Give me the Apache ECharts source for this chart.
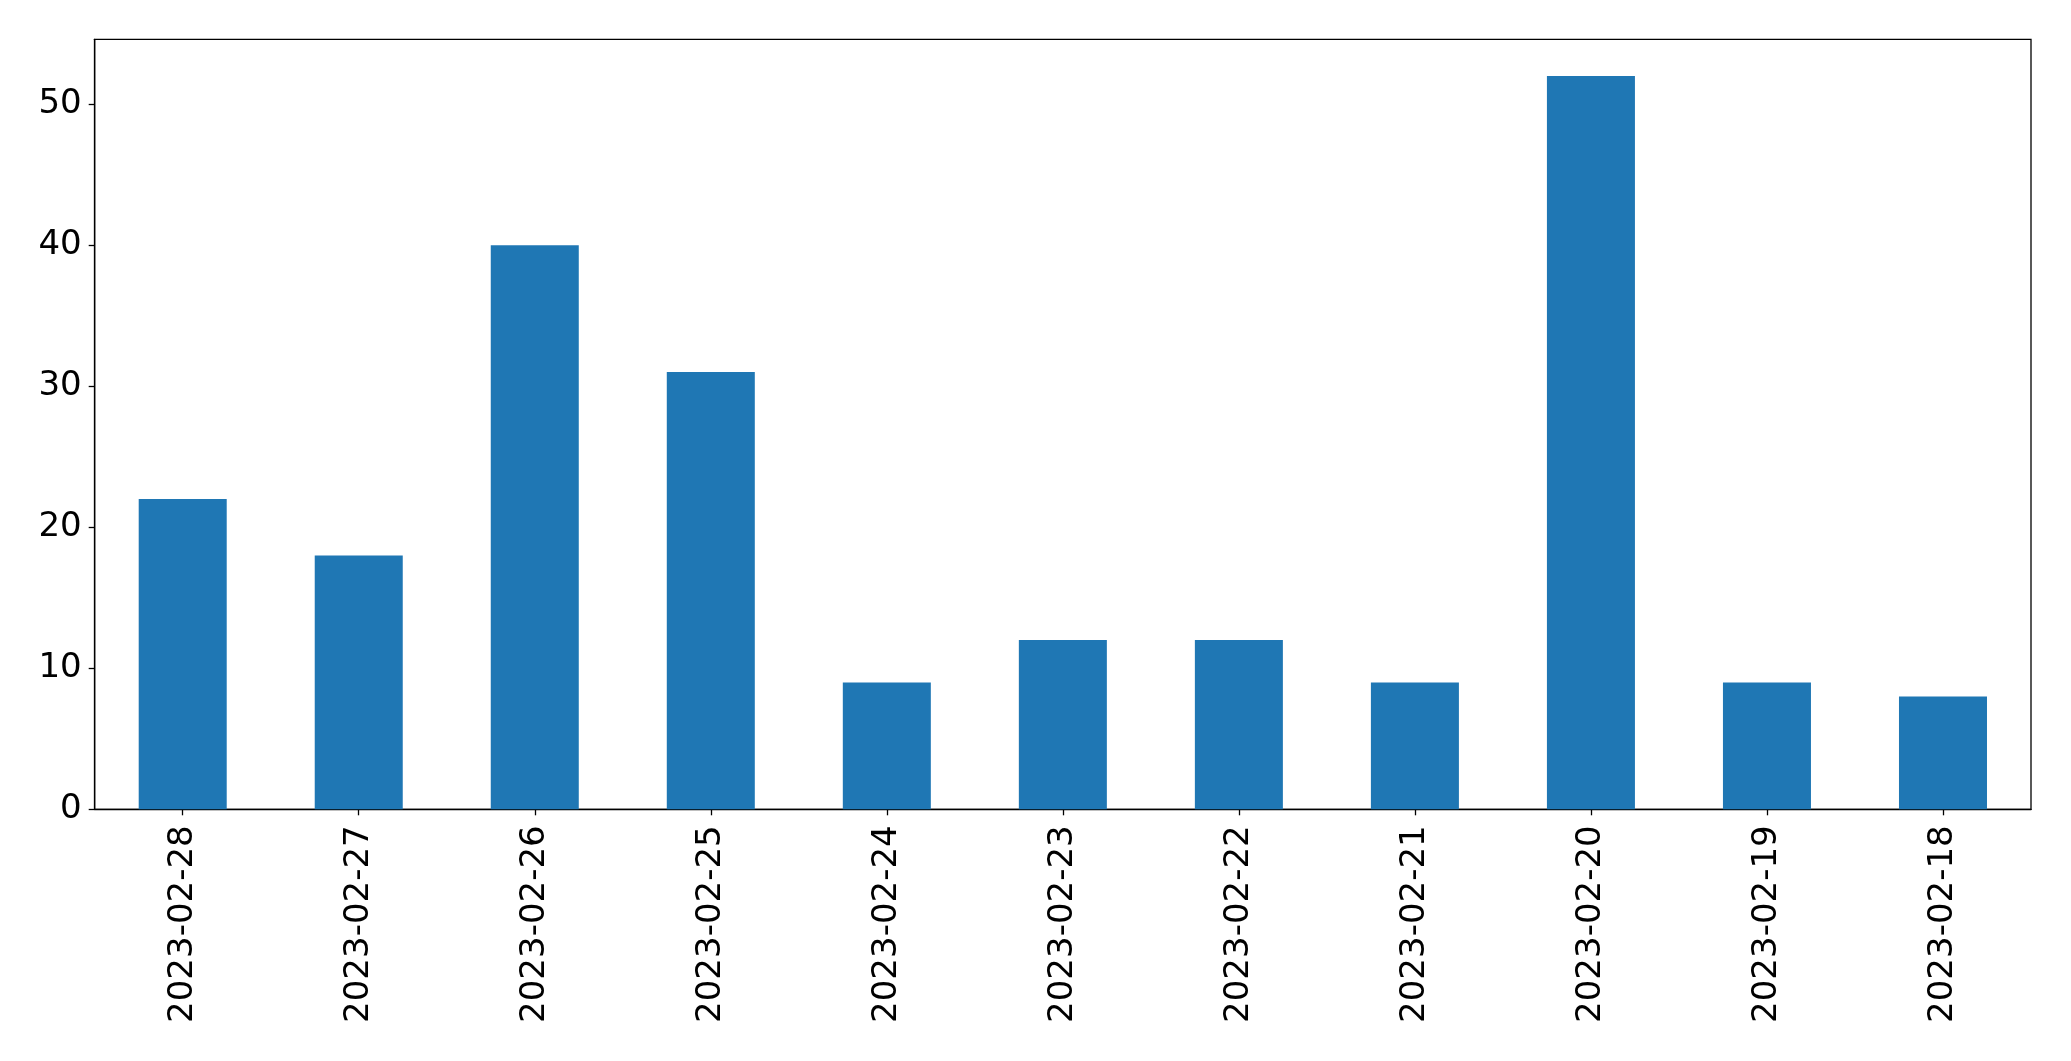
<!DOCTYPE html>
<html>
<head>
<meta charset="utf-8">
<script src="https://cdn.jsdelivr.net/npm/echarts@6/dist/echarts.min.js"></script>
<style>
html,body{margin:0;padding:0;background:#fff;}
#c{width:2071px;height:1061px;}
</style>
</head>
<body>
<div id="c"></div>
<script>
const categories = ["2023-02-28","2023-02-27","2023-02-26","2023-02-25","2023-02-24","2023-02-23","2023-02-22","2023-02-21","2023-02-20","2023-02-19","2023-02-18"];
const values = [22, 18, 40, 31, 9, 12, 12, 9, 52, 9, 8];
const yTicks = [0, 10, 20, 30, 40, 50];

const chart = echarts.init(document.getElementById('c'), null, {renderer: 'canvas'});
const font = 'DejaVu Sans';
chart.setOption({
  animation: false,
  backgroundColor: '#ffffff',
  grid: {left: 94.7, right: 40, top: 39.3, bottom: 251.7, show: true, borderColor: '#000', borderWidth: 1.3, backgroundColor: 'transparent'},
  xAxis: {
    type: 'category',
    data: categories,
    boundaryGap: true,
    axisLine: {show: true, lineStyle: {color: '#000', width: 1.3}},
    axisTick: {show: true, alignWithLabel: true, length: 6, inside: false, lineStyle: {color: '#000', width: 1.3}},
    axisLabel: {rotate: 90, fontFamily: font, fontSize: 34, color: '#000', margin: 16, interval: 0}
  },
  yAxis: {
    type: 'value',
    min: 0,
    max: 54.6,
    interval: 10,
    splitLine: {show: false},
    axisLine: {show: true, lineStyle: {color: '#000', width: 1.3}},
    axisTick: {show: true, length: 6, lineStyle: {color: '#000', width: 1.3}},
    axisLabel: {fontFamily: font, fontSize: 34, color: '#000', margin: 13, showMaxLabel: false,
      formatter: v => yTicks.includes(v) ? String(v) : ''}
  },
  series: [{
    type: 'bar',
    data: values,
    barWidth: '50%',
    itemStyle: {color: '#1f77b4'}
  }]
});
</script>
</body>
</html>
